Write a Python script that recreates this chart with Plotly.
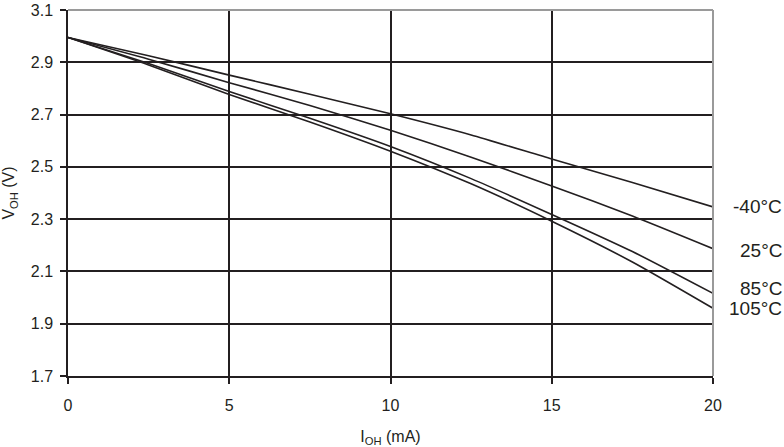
import plotly.graph_objects as go

i_oh = [0, 2.5, 5, 7.5, 10, 12.5, 15, 17.5, 20]
v_m40 = [2.995, 2.925, 2.851, 2.778, 2.703, 2.622, 2.530, 2.440, 2.347]
v_25 = [2.995, 2.912, 2.822, 2.735, 2.640, 2.537, 2.427, 2.312, 2.187]
v_85 = [2.995, 2.895, 2.788, 2.686, 2.578, 2.455, 2.318, 2.176, 2.016]
v_105 = [2.995, 2.890, 2.777, 2.672, 2.560, 2.435, 2.292, 2.136, 1.959]

series = [("-40°C", v_m40), ("25°C", v_25), ("85°C", v_85), ("105°C", v_105)]
label_y = [2.347, 2.180, 2.035, 1.960]

x_ticks = [0, 5, 10, 15, 20]
y_ticks = [1.7, 1.9, 2.1, 2.3, 2.5, 2.7, 2.9, 3.1]

ink = "#231f20"
font_family = "Liberation Sans, Arial, sans-serif"

fig = go.Figure()
for name, vals in series:
    fig.add_trace(go.Scatter(x=i_oh, y=vals, mode="lines", name=name,
                             line=dict(color=ink, width=1.6, shape="spline", smoothing=0.6),
                             showlegend=False, hoverinfo="skip"))

annotations = []
for (name, vals), ly in zip(series, label_y):
    annotations.append(dict(x=1, xref="paper", y=ly, yref="y", text=name,
                            showarrow=False, xanchor="right", yanchor="middle",
                            xshift=71, font=dict(size=19, color=ink, family=font_family)))

fig.update_layout(
    width=784, height=447,
    margin=dict(l=68, r=71, t=10, b=71, autoexpand=False),
    paper_bgcolor="white", plot_bgcolor="white",
    font=dict(family=font_family, color=ink, size=16),
    annotations=annotations,
    xaxis=dict(range=[0, 20], tickvals=x_ticks, ticktext=[str(t) for t in x_ticks],
               showgrid=True, gridcolor=ink, gridwidth=2,
               showline=True, linecolor=ink, linewidth=1.5,
               ticks="outside", ticklen=6, tickwidth=1.5, tickcolor=ink,
               zeroline=False, tickfont=dict(size=16), automargin=False,
               ticklabelstandoff=8,
               title=dict(text="I<sub>OH</sub> (mA)", font=dict(size=16), standoff=22)),
    yaxis=dict(range=[1.7, 3.1], tickvals=y_ticks, ticktext=[f"{t:.1f}" for t in y_ticks],
               showgrid=True, gridcolor=ink, gridwidth=2,
               showline=True, linecolor=ink, linewidth=1.5,
               ticks="outside", ticklen=6, tickwidth=1.5, tickcolor=ink,
               zeroline=False, tickfont=dict(size=16), automargin=False,
               ticklabelstandoff=4,
               title=dict(text="V<sub>OH</sub> (V)", font=dict(size=16), standoff=12)),
    shapes=[
        dict(type="line", xref="paper", yref="paper", x0=0, x1=1, y0=1, y1=1,
             line=dict(color="#9a9a9a", width=2), layer="above"),
        dict(type="line", xref="paper", yref="paper", x0=1, x1=1, y0=0, y1=1,
             line=dict(color="#9a9a9a", width=2), layer="above"),
    ],
)

fig.write_html("out.html", config={"displayModeBar": False})
with open("out.html", "r", encoding="utf-8") as f:
    html = f.read()
html = html.replace("<head>", "<head><style>html,body{margin:0;padding:0;overflow:hidden;}</style>", 1)
with open("out.html", "w", encoding="utf-8") as f:
    f.write(html)
